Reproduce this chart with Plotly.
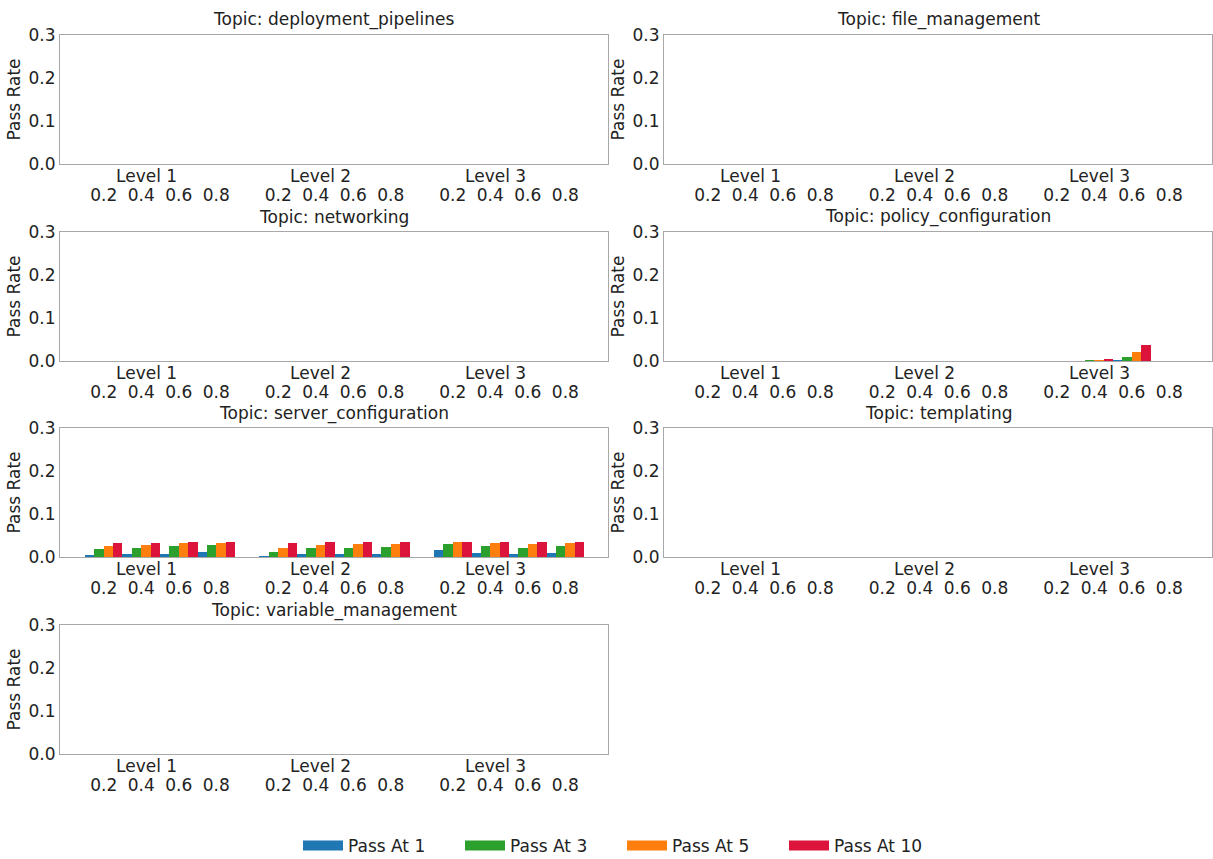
import plotly.graph_objects as go

# Experimental grid
levels = ["Level 1", "Level 2", "Level 3"]
temperatures = [0.2, 0.4, 0.6, 0.8]
series_names = ["Pass At 1", "Pass At 3", "Pass At 5", "Pass At 10"]
series_colors = ["#1f77b4", "#2ca02c", "#ff7f0e", "#dc143c"]
topics = [
    "deployment_pipelines", "file_management", "networking",
    "policy_configuration", "server_configuration", "templating",
    "variable_management",
]

# Pass rates per topic: one row per series, columns ordered
# Level 1 (T=0.2..0.8), Level 2 (T=0.2..0.8), Level 3 (T=0.2..0.8)
deployment_pipelines = [
    [0, 0, 0, 0, 0, 0, 0, 0, 0, 0, 0, 0],
    [0, 0, 0, 0, 0, 0, 0, 0, 0, 0, 0, 0],
    [0, 0, 0, 0, 0, 0, 0, 0, 0, 0, 0, 0],
    [0, 0, 0, 0, 0, 0, 0, 0, 0, 0, 0, 0],
]
file_management = [
    [0, 0, 0, 0, 0, 0, 0, 0, 0, 0, 0, 0],
    [0, 0, 0, 0, 0, 0, 0, 0, 0, 0, 0, 0],
    [0, 0, 0, 0, 0, 0, 0, 0, 0, 0, 0, 0],
    [0, 0, 0, 0, 0, 0, 0, 0, 0, 0, 0, 0],
]
networking = [
    [0, 0, 0, 0, 0, 0, 0, 0, 0, 0, 0, 0],
    [0, 0, 0, 0, 0, 0, 0, 0, 0, 0, 0, 0],
    [0, 0, 0, 0, 0, 0, 0, 0, 0, 0, 0, 0],
    [0, 0, 0, 0, 0, 0, 0, 0, 0, 0, 0, 0],
]
policy_configuration = [
    [0, 0, 0, 0, 0, 0, 0, 0, 0, 0.000, 0.002, 0],
    [0, 0, 0, 0, 0, 0, 0, 0, 0, 0.001, 0.010, 0],
    [0, 0, 0, 0, 0, 0, 0, 0, 0, 0.002, 0.020, 0],
    [0, 0, 0, 0, 0, 0, 0, 0, 0, 0.003, 0.037, 0],
]
server_configuration = [
    [0.003, 0.008, 0.008, 0.012, 0.002, 0.008, 0.007, 0.008, 0.017, 0.010, 0.008, 0.010],
    [0.018, 0.022, 0.025, 0.028, 0.012, 0.022, 0.022, 0.024, 0.030, 0.025, 0.020, 0.025],
    [0.025, 0.028, 0.032, 0.033, 0.022, 0.028, 0.030, 0.030, 0.035, 0.033, 0.030, 0.033],
    [0.033, 0.033, 0.035, 0.035, 0.033, 0.035, 0.035, 0.035, 0.035, 0.035, 0.035, 0.035],
]
templating = [
    [0, 0, 0, 0, 0, 0, 0, 0, 0, 0, 0, 0],
    [0, 0, 0, 0, 0, 0, 0, 0, 0, 0, 0, 0],
    [0, 0, 0, 0, 0, 0, 0, 0, 0, 0, 0, 0],
    [0, 0, 0, 0, 0, 0, 0, 0, 0, 0, 0, 0],
]
variable_management = [
    [0, 0, 0, 0, 0, 0, 0, 0, 0, 0, 0, 0],
    [0, 0, 0, 0, 0, 0, 0, 0, 0, 0, 0, 0],
    [0, 0, 0, 0, 0, 0, 0, 0, 0, 0, 0, 0],
    [0, 0, 0, 0, 0, 0, 0, 0, 0, 0, 0, 0],
]
topic_rates = [
    deployment_pipelines, file_management, networking, policy_configuration,
    server_configuration, templating, variable_management,
]

W, H = 1213, 859
FONT = "DejaVu Sans"
TXT = "#222222"
FS = 17
CLUSTER = 0.215        # distance between temperature clusters inside a level group
LEVEL_SHIFT = -0.08    # level caption sits slightly left of the group centre

# Panel boxes in pixels: (left, right) per column, (top, bottom) per row
col_px = [(60, 608), (664, 1212)]
row_px = [(35, 164), (232, 361), (428, 557), (625, 754)]

# Numeric x positions of every (level, temperature) cluster
x_pos = [li + (ti - 1.5) * CLUSTER for li in range(len(levels)) for ti in range(len(temperatures))]
tick_text = [f"{t:.1f}" for _ in levels for t in temperatures]
x_range = [-0.573, 2.567]

fig = go.Figure()
annotations = []
layout_axes = {}

for k, (topic, rates) in enumerate(zip(topics, topic_rates)):
    r, c = divmod(k, 2)
    idx = "" if k == 0 else str(k + 1)
    xa, ya = f"x{idx}", f"y{idx}"
    (l, rr), (t, b) = col_px[c], row_px[r]

    for s, (name, color) in enumerate(zip(series_names, series_colors)):
        fig.add_trace(go.Bar(
            x=x_pos, y=rates[s], name=name, marker=dict(color=color, line=dict(width=0)),
            xaxis=xa, yaxis=ya, legendgroup=name, showlegend=False,
        ))

    layout_axes[f"xaxis{idx}"] = dict(
        domain=[l / W, rr / W], anchor=ya, range=x_range,
        tickmode="array", tickvals=x_pos, ticktext=tick_text,
        ticks="", ticklabelstandoff=16, showgrid=False, zeroline=False,
        showline=True, mirror=True, linecolor="#a8a8a8", linewidth=1,
        tickfont=dict(family=FONT, size=FS, color=TXT), automargin=False,
    )
    layout_axes[f"yaxis{idx}"] = dict(
        domain=[1 - b / H, 1 - t / H], anchor=xa, range=[0, 0.3],
        tickmode="array", tickvals=[0, 0.1, 0.2, 0.3], tickformat=".1f",
        ticks="", showgrid=False, zeroline=False,
        showline=True, mirror=True, linecolor="#a8a8a8", linewidth=1,
        tickfont=dict(family=FONT, size=FS, color=TXT), automargin=False,
        title=dict(text="Pass Rate", font=dict(family=FONT, size=FS, color=TXT), standoff=3),
    )

    # Subplot title
    annotations.append(dict(
        text=f"Topic: {topic}", xref="paper", yref="paper",
        x=(l + rr) / 2 / W, y=1 - (t - 15) / H, xanchor="center", yanchor="middle",
        showarrow=False, font=dict(family=FONT, size=FS, color=TXT),
    ))
    # Level captions above the temperature ticks
    for li, lev in enumerate(levels):
        annotations.append(dict(
            text=lev, xref=xa, yref=f"{ya} domain",
            x=li + LEVEL_SHIFT, y=0, xanchor="center", yanchor="top", yshift=0,
            showarrow=False, font=dict(family=FONT, size=FS, color=TXT),
        ))

# Legend entries drawn as thick line swatches
for name, color in zip(series_names, series_colors):
    fig.add_trace(go.Scatter(
        x=[None], y=[None], mode="lines", name=name,
        line=dict(color=color, width=11), legendgroup=name, showlegend=True,
    ))

fig.update_layout(
    width=W, height=H,
    margin=dict(l=0, r=0, t=0, b=0, autoexpand=False),
    paper_bgcolor="white", plot_bgcolor="white",
    barmode="group", bargap=0, bargroupgap=0,
    annotations=annotations,
    font=dict(family=FONT, size=FS, color=TXT),
    legend=dict(
        orientation="h", x=298 / W, xanchor="left", y=1 - 846 / H, yanchor="middle",
        font=dict(family=FONT, size=FS, color=TXT),
        entrywidth=107, itemwidth=40, bgcolor="rgba(0,0,0,0)",
    ),
    **layout_axes,
)

fig.write_html("out.html")
